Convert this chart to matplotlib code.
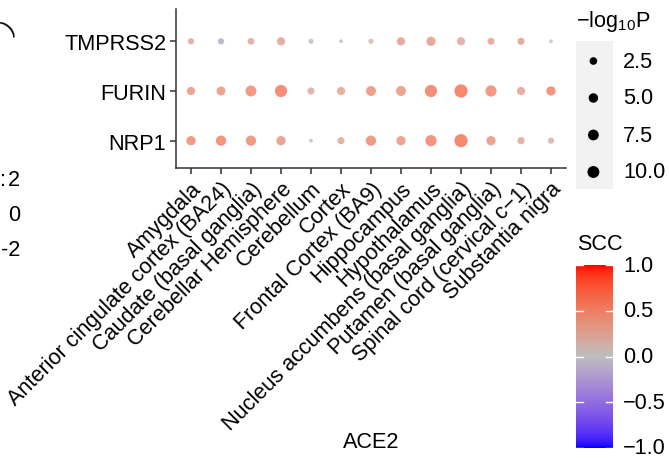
import numpy as np
import matplotlib
matplotlib.use("Agg")
import matplotlib.pyplot as plt
from matplotlib.colors import ListedColormap, to_rgb
from matplotlib.patches import Rectangle

plt.rcParams['font.family'] = ['Liberation Sans', 'DejaVu Sans']

# ---- data -------------------------------------------------------------
tissues = [
    "Amygdala", "Anterior cingulate cortex (BA24)", "Caudate (basal ganglia)",
    "Cerebellar Hemisphere", "Cerebellum", "Cortex", "Frontal Cortex (BA9)",
    "Hippocampus", "Hypothalamus", "Nucleus accumbens (basal ganglia)",
    "Putamen (basal ganglia)", "Spinal cord (cervical c\u22121)", "Substantia nigra",
]
genes = ["NRP1", "FURIN", "TMPRSS2"]  # bottom to top

neglog10p_tmprss2 = [1.2, 1.2, 1.6, 3.2, 0.6, 0.3, 0.6, 3.2, 4.7, 3.2, 1.8, 1.8, 0.3]
neglog10p_furin = [3.2, 4.2, 7.8, 10.7, 2.0, 3.2, 5.9, 5.9, 10.7, 13.3, 8.4, 3.2, 4.7]
neglog10p_nrp1 = [4.7, 6.4, 6.4, 4.7, 0.3, 2.0, 6.4, 4.7, 8.4, 13.3, 4.7, 2.0, 1.2]

scc_tmprss2 = [0.25, -0.15, 0.25, 0.3, 0.05, 0.05, 0.1, 0.35, 0.35, 0.25, 0.3, 0.35, 0.0]
scc_furin = [0.4, 0.4, 0.5, 0.6, 0.2, 0.3, 0.45, 0.4, 0.6, 0.65, 0.5, 0.3, 0.55]
scc_nrp1 = [0.5, 0.55, 0.5, 0.4, 0.05, 0.25, 0.5, 0.4, 0.55, 0.65, 0.4, 0.25, 0.15]

size_breaks = [2.5, 5.0, 7.5, 10.0]
size_break_labels = ["2.5", "5.0", "7.5", "10.0"]
scc_breaks = [1.0, 0.5, 0.0, -0.5, -1.0]
scc_break_labels = ["1.0", "0.5", "0.0", "\u22120.5", "\u22121.0"]

neglog10p = {"TMPRSS2": neglog10p_tmprss2, "FURIN": neglog10p_furin, "NRP1": neglog10p_nrp1}
scc = {"TMPRSS2": scc_tmprss2, "FURIN": scc_furin, "NRP1": scc_nrp1}

FS = 15.6

# ---- colour scale: blue - grey - red, interpolated in CIELAB -----------
def srgb_to_lab(rgb):
    c = np.asarray(rgb, float)
    lin = np.where(c <= 0.04045, c / 12.92, ((c + 0.055) / 1.055) ** 2.4)
    M = np.array([[0.4124, 0.3576, 0.1805],
                  [0.2126, 0.7152, 0.0722],
                  [0.0193, 0.1192, 0.9505]])
    xyz = M @ lin / np.array([0.95047, 1.0, 1.08883])
    f = np.where(xyz > 0.008856, np.cbrt(xyz), 7.787 * xyz + 16 / 116)
    return np.array([116 * f[1] - 16, 500 * (f[0] - f[1]), 200 * (f[1] - f[2])])


def lab_to_srgb(lab):
    L, a, b = lab
    fy_ = (L + 16) / 116
    f = np.array([fy_ + a / 500, fy_, fy_ - b / 200])
    xyz = np.where(f ** 3 > 0.008856, f ** 3, (f - 16 / 116) / 7.787)
    xyz = xyz * np.array([0.95047, 1.0, 1.08883])
    Minv = np.array([[3.2406, -1.5372, -0.4986],
                     [-0.9689, 1.8758, 0.0415],
                     [0.0557, -0.2040, 1.0570]])
    lin = np.clip(Minv @ xyz, 0, 1)
    c = np.where(lin <= 0.0031308, 12.92 * lin, 1.055 * lin ** (1 / 2.4) - 0.055)
    return np.clip(c, 0, 1)


low, mid, high = [srgb_to_lab(to_rgb(c)) for c in ("#0000FF", "#BEBEBE", "#FF0000")]
ramp = []
for t in np.linspace(0, 1, 256):
    if t < 0.5:
        ramp.append(lab_to_srgb(low + (mid - low) * (t / 0.5)))
    else:
        ramp.append(lab_to_srgb(mid + (high - mid) * ((t - 0.5) / 0.5)))
scc_cmap = ListedColormap(ramp)

# ---- size scale (area) -------------------------------------------------
all_p = neglog10p_tmprss2 + neglog10p_furin + neglog10p_nrp1
pmin, pmax = min(all_p), max(all_p)
DPI = 100


def marker_area(v):
    v = np.asarray(v, float)
    d_px = 3.8 + 9.4 * np.sqrt(np.clip((v - pmin) / (pmax - pmin), 0, 1))
    return (d_px * 72 / DPI) ** 2


# ---- figure ------------------------------------------------------------
W, H = 669, 460
fig = plt.figure(figsize=(W / DPI, H / DPI), dpi=DPI)


def fx(px):
    return px / W


def fy(py):
    return 1 - py / H


ax = fig.add_axes([fx(176), fy(169), fx(566) - fx(176), fy(10) - fy(169)])
for gi, g in enumerate(genes):
    xs = np.arange(len(tissues))
    ax.scatter(xs, np.full(len(xs), gi), s=marker_area(neglog10p[g]),
               c=scc[g], cmap=scc_cmap, vmin=-1, vmax=1, alpha=0.78,
               edgecolors="none", zorder=3)

ax.set_xlim(-0.5, len(tissues) - 0.5)
ax.set_ylim(-0.55, 2.65)
ax.set_yticks(range(len(genes)))
ax.set_yticklabels(genes, fontsize=FS)
ax.set_xticks(range(len(tissues)))
ax.set_xticklabels(tissues, rotation=45, ha="right", va="top",
                   rotation_mode="anchor", fontsize=FS)
for side in ("top", "right"):
    ax.spines[side].set_visible(False)
for side in ("left", "bottom"):
    ax.spines[side].set_color("#333333")
    ax.spines[side].set_linewidth(1.1)
ax.tick_params(axis="both", length=4, width=1.1, color="#333333",
               labelcolor="black", pad=3)

fig.text(fx(371), fy(443), "ACE2", ha="center", va="center", fontsize=FS)

# ---- size legend -------------------------------------------------------
fig.text(fx(576), fy(22), r"$\mathregular{-log_{10}P}$", ha="left",
         va="center", fontsize=FS)
leg = fig.add_axes([fx(576), fy(190), fx(613) - fx(576), fy(42) - fy(190)])
leg.set_xlim(0, 1)
leg.set_ylim(190, 42)
leg.add_patch(Rectangle((0, 42), 1, 148, color="#F2F2F2", zorder=0))
key_y = [62, 99, 136, 173]
for yk, b, lab in zip(key_y, size_breaks, size_break_labels):
    leg.scatter([0.47], [yk], s=marker_area(b), color="black",
                edgecolors="none", zorder=3)
    fig.text(fx(623), fy(yk), lab, ha="left", va="center", fontsize=FS)
leg.axis("off")

# ---- colour bar --------------------------------------------------------
fig.text(fx(577), fy(245), "SCC", ha="left", va="center", fontsize=FS)
cb_top, cb_bot = 266, 449
cbax = fig.add_axes([fx(576), fy(cb_bot), fx(613) - fx(576), fy(cb_top) - fy(cb_bot)])
grad = np.linspace(-1, 1, 300).reshape(-1, 1)
cbax.imshow(grad, aspect="auto", cmap=scc_cmap, vmin=-1, vmax=1,
            origin="lower", extent=(0, 1, -1, 1))
for b in scc_breaks:
    cbax.plot([0, 0.2], [b, b], color="white", lw=1)
    cbax.plot([0.8, 1], [b, b], color="white", lw=1)
cbax.set_xlim(0, 1)
cbax.set_ylim(-1, 1)
cbax.axis("off")
for b, lab in zip(scc_breaks, scc_break_labels):
    py = cb_top + (1 - b) / 2 * (cb_bot - cb_top)
    fig.text(fx(623), fy(py), lab, ha="left", va="center", fontsize=FS)

# ---- pieces of the neighbouring panel at the left edge -----------------
fig.text(fx(9), fy(28), ")", rotation=45, ha="center", va="center", fontsize=FS)
fig.text(fx(0.5), fy(181), ":", ha="left", va="center", fontsize=FS)
fig.text(fx(20), fy(181), "2", ha="right", va="center", fontsize=FS)
fig.text(fx(20), fy(216), "0", ha="right", va="center", fontsize=FS)
fig.text(fx(20), fy(251), "-2", ha="right", va="center", fontsize=FS)

fig.savefig("out.png", dpi=DPI)
